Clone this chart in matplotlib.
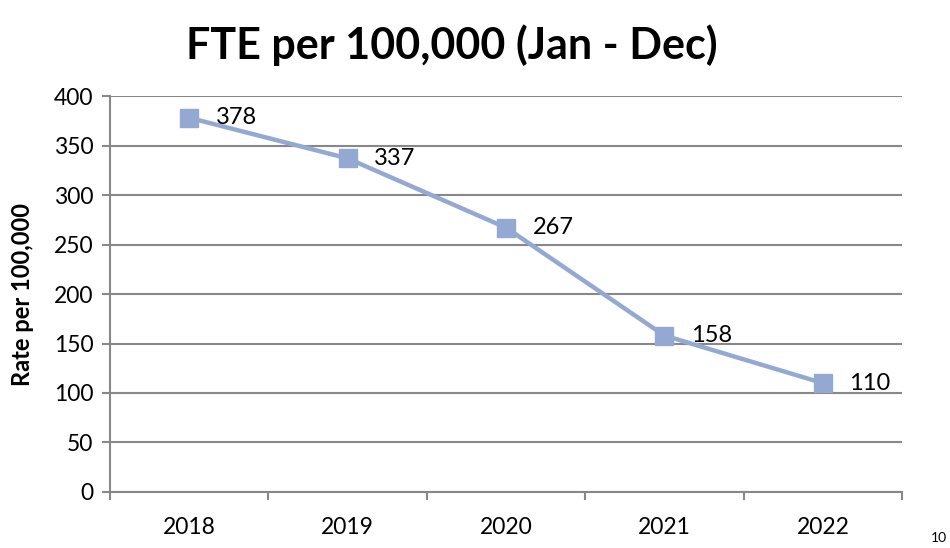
import matplotlib.pyplot as plt

years = ["2018", "2019", "2020", "2021", "2022"]
rates = [378, 337, 267, 158, 110]

plt.rcParams["font.family"] = ["Lato", "DejaVu Sans"]

fig = plt.figure(figsize=(9.5, 5.48), dpi=100)
ax = fig.add_axes([0.1158, 0.1022, 0.8337, 0.7226])

x = list(range(len(years)))
ax.plot(x, rates, color="#94A9D2", linewidth=3.2, marker="s",
        markersize=13, markerfacecolor="#94A9D2", markeredgecolor="#94A9D2",
        zorder=3)

for xi, v in zip(x, rates):
    ax.annotate(str(v), (xi, v), xytext=(19, 0), textcoords="offset points",
                va="center", ha="left", fontsize=17, color="black")

ax.set_xlim(-0.5, len(years) - 0.5)
ax.set_ylim(0, 400)
ax.set_yticks(range(0, 401, 50))
ax.set_xticks(x)
ax.set_xticklabels(years)
ax.set_xticks([i - 0.5 for i in range(len(years) + 1)], minor=True)
ax.tick_params(axis="x", which="major", length=0, pad=18, labelsize=16.5)
ax.tick_params(axis="x", which="minor", length=6, width=1.5, color="#888888")
ax.tick_params(axis="y", length=6, width=1.5, color="#888888", labelsize=16.5, pad=6)

ax.grid(axis="y", color="#888888", linewidth=1.5)
ax.set_axisbelow(True)
for side in ["top", "right"]:
    ax.spines[side].set_visible(False)
for side in ["left", "bottom"]:
    ax.spines[side].set_color("#888888")
    ax.spines[side].set_linewidth(1.5)

ax.set_ylabel("Rate per 100,000", fontsize=17, fontweight="bold", labelpad=14)
fig.text(0.476, 0.918, "FTE per 100,000 (Jan - Dec)", ha="center", va="center",
         fontsize=31, fontweight="bold")
fig.text(0.988, 0.018, "10", ha="center", va="center", fontsize=10)

fig.savefig("out.png", dpi=100)
